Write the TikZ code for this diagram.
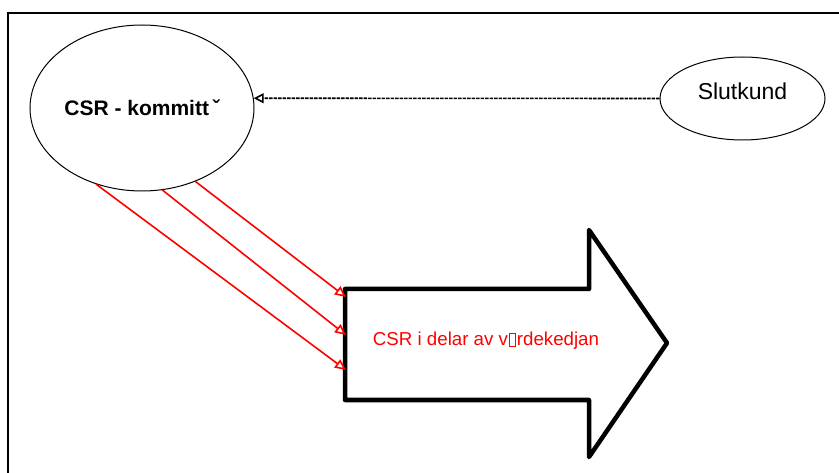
\documentclass[tikz,border=0pt]{standalone}
\usepackage{fontspec}
\setmainfont{Liberation Sans}
\usetikzlibrary{arrows.meta,shapes.geometric}
\newcommand{\nochar}{\kern.07em{\setlength{\fboxsep}{0pt}\setlength{\fboxrule}{.5pt}\fbox{\rule{0pt}{.68em}\rule{.28em}{0pt}}}\kern.07em}

\begin{document}
\begin{tikzpicture}[x=1pt,y=-1pt,line cap=round,
  actor/.style={draw,ellipse,line width=1pt,inner sep=0pt},
  flow/.style={red,line width=1.6pt,-{Triangle[open,length=11pt,width=10pt]}},
  link/.style={line width=1.6pt,line cap=butt,dash pattern=on 3.5pt off 1pt,-{Triangle[open,length=10pt,width=10pt]}}]
\useasboundingbox (0,0) rectangle (839,473);
\draw[line width=1.5pt,line cap=butt] (8,473) -- (8,13) -- (839,13);
\node[actor,minimum width=224pt,minimum height=166pt,font=\fontsize{21}{25}\selectfont\bfseries] (committee) at (142,108) {CSR - kommitt\,ˇ};
\node[actor,minimum width=165pt,minimum height=83pt] (customer) at (742.5,98.5) {};
\node[font=\fontsize{23}{27}\selectfont,anchor=base] (customer text) at (742.5,99.5) {Slutkund};
\draw[link] (customer.west) -- (committee.5);
% the value chain arrow
\draw[line width=4.5pt,line join=round] (345,289) -- (589,289) -- (589,230) -- (667,343) -- (589,457) -- (589,400) -- (345,400) -- cycle;
\node[red,font=\fontsize{18.7}{22}\selectfont,anchor=base] (chain) at (486,346) {CSR i delar av v\nochar rdekedjan};
\coordinate (in1) at (346,297);
\coordinate (in2) at (346,335);
\coordinate (in3) at (346,370);
\draw[flow] (committee.306) -- (in1);
\draw[flow] (committee.284) -- (in2);
\draw[flow] (committee.239) -- (in3);
\end{tikzpicture}
\end{document}
